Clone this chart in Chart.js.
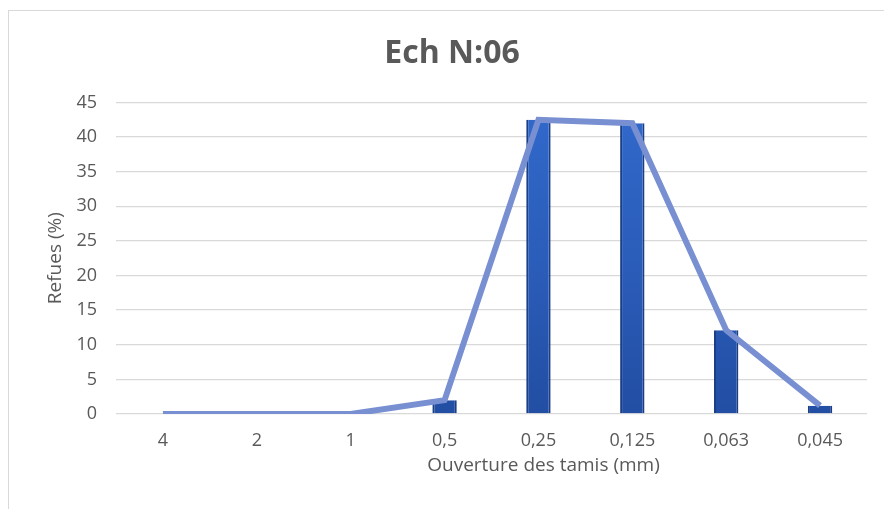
<!DOCTYPE html>
<html>
<head>
<meta charset="utf-8">
<script src="https://cdn.jsdelivr.net/npm/chart.js@4.4.1/dist/chart.umd.min.js"></script>
<style>
  html, body { margin: 0; padding: 0; background: #fff; overflow: hidden; }
  #frame {
    position: absolute; left: 8px; top: 10px; width: 900px; height: 520px;
    border-top: 1px solid #d9d9d9; border-left: 1px solid #d9d9d9; box-sizing: border-box;
  }
  #wrap { position: absolute; left: 9px; top: 11px; width: 886px; height: 498px; }
</style>
</head>
<body>
<div id="frame"></div>
<div id="wrap"><canvas id="c"></canvas></div>
<script>
// Sieve openings (mm) and retained fractions (%)
const ouvertures = ['4', '2', '1', '0,5', '0,25', '0,125', '0,063', '0,045'];
const refus = [0, 0, 0, 2, 42.5, 42, 12.1, 1.2];
const yTicks = [0, 5, 10, 15, 20, 25, 30, 35, 40, 45];
const xTitle = 'Ouverture des tamis (mm)';

const TEXT = '#595959';
const FONT = 'Open Sans';
const BAR_PCT = 0.26;

// Column fill: brighter blue at the top fading to a deeper blue at the base
function barFill(context) {
  const chart = context.chart;
  const area = chart.chartArea;
  if (!area || !Number.isFinite(area.top) || !Number.isFinite(area.bottom)) return '#2a5bb8';
  const g = chart.ctx.createLinearGradient(0, area.top, 0, area.bottom);
  g.addColorStop(0, '#3169cb');
  g.addColorStop(0.5, '#2b5dba');
  g.addColorStop(1, '#224ea3');
  return g;
}

// Horizontal axis caption, set a little right of the plot centre
const xCaption = {
  id: 'xCaption',
  afterDraw(chart) {
    const { ctx, chartArea } = chart;
    const xs = chart.scales.x;
    ctx.save();
    ctx.font = `19px "${FONT}"`;
    ctx.fillStyle = TEXT;
    ctx.textAlign = 'center';
    ctx.textBaseline = 'middle';
    ctx.fillText(xTitle, (chartArea.left + chartArea.right) / 2 + 52, xs.bottom - 43);
    ctx.restore();
  }
};

new Chart(document.getElementById('c'), {
  data: {
    labels: ouvertures,
    datasets: [
      {
        type: 'line',
        data: refus,
        borderColor: '#7890d2',
        borderWidth: 6,
        pointRadius: 0,
        tension: 0,
        order: 0
      },
      {
        type: 'bar',
        data: refus,
        backgroundColor: barFill,
        borderColor: '#1b3f86',
        borderWidth: { left: 2, right: 2, top: 0, bottom: 0 },
        borderSkipped: false,
        barPercentage: BAR_PCT,
        categoryPercentage: 1,
        order: 1
      }
    ]
  },
  plugins: [xCaption],
  options: {
    responsive: true,
    maintainAspectRatio: false,
    animation: false,
    layout: { padding: { left: 28, right: 28, top: 0, bottom: 0 } },
    plugins: {
      legend: { display: false },
      tooltip: { enabled: false },
      title: {
        display: true,
        text: 'Ech N:06',
        color: TEXT,
        font: { family: FONT, size: 32, weight: 'bold' },
        padding: { top: 24, bottom: 29 }
      }
    },
    scales: {
      x: {
        grid: { display: false },
        border: { display: false },
        ticks: { color: TEXT, font: { family: FONT, size: 18 }, padding: 8, maxRotation: 0 },
        afterFit(scale) { scale.height = 95; }
      },
      y: {
        min: 0,
        max: 45,
        afterBuildTicks(scale) { scale.ticks = yTicks.map(v => ({ value: v })); },
        grid: { color: '#d9d9d9', lineWidth: 1.3, drawTicks: false },
        border: { display: false },
        ticks: { color: TEXT, font: { family: FONT, size: 18 }, padding: 19 },
        title: {
          display: true,
          text: 'Refues (%)',
          color: TEXT,
          font: { family: FONT, size: 19 },
          padding: { top: 7, bottom: 0 }
        },
        afterFit(scale) { scale.width = 79; }
      }
    }
  }
});
</script>
</body>
</html>
